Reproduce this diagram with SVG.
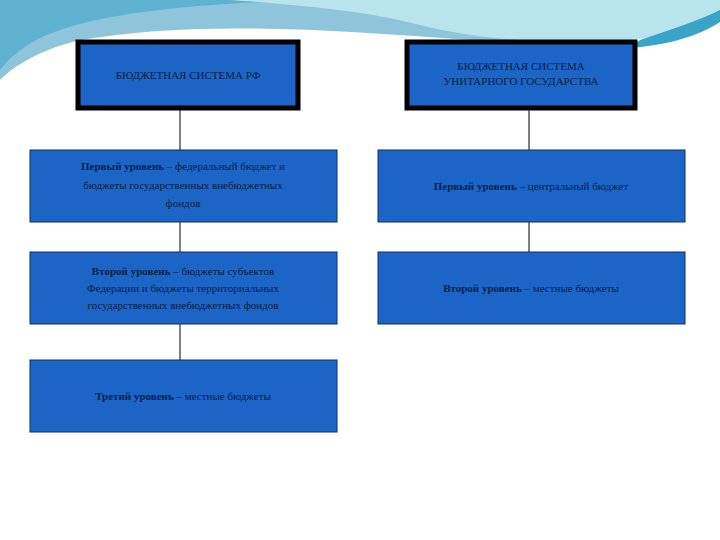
<svg xmlns="http://www.w3.org/2000/svg" width="720" height="540" viewBox="0 0 720 540">
<style>
.b{fill:#1c64c6;stroke:#0d2f66;stroke-width:1}
.h{fill:#1c64c6;stroke:#000;stroke-width:5}
text{font-family:"Liberation Serif",serif;font-size:11px;fill:#0b1f4a;text-anchor:middle}
.bo{font-weight:bold}
.c{stroke:#000;stroke-width:1;fill:none}
</style>
<rect width="720" height="540" fill="#fff"/>
<path d="M0,0 H720 V20 C650,40 560,45 470,40 C330,30 200,20 80,40 C40,50 15,65 0,80 Z" fill="#8fc5da"/>
<path d="M0,0 H300 C200,5 120,10 60,30 C30,40 12,55 0,70 Z" fill="#5fb3d0"/>
<path d="M230,0 H720 V20 C700,28 660,40 600,42 C540,44 470,38 420,25 C380,14 320,6 230,0 Z" fill="#b9e4ee"/>
<path d="M640,40 C670,30 700,20 720,10 V22 C700,35 670,45 630,48 Z" fill="#3aa3c8"/>
<g id="connectors">
<path class="c" d="M180,110 V150 M180,222 V252 M180,324 V360 M529,110 V150 M529,222 V252"/>
</g>
<g id="rf"><rect class="h" x="78" y="42" width="220" height="66"/><text x="188" y="79">БЮДЖЕТНАЯ СИСТЕМА РФ</text></g>
<g id="unit"><rect class="h" x="407" y="42" width="228" height="66"/><text x="521" y="70">БЮДЖЕТНАЯ СИСТЕМА</text><text x="521" y="85">УНИТАРНОГО ГОСУДАРСТВА</text></g>
<g id="l1"><rect class="b" x="30" y="150" width="307" height="72"/><text x="183" y="170"><tspan class="bo">Первый уровень</tspan> – федеральный бюджет и</text><text x="183" y="189">бюджеты государственных внебюджетных</text><text x="183" y="207">фондов</text></g>
<g id="l2"><rect class="b" x="30" y="252" width="307" height="72"/><text x="183" y="275"><tspan class="bo">Второй уровень</tspan> – бюджеты субъектов</text><text x="183" y="292">Федерации и бюджеты территориальных</text><text x="183" y="309">государственных внебюджетных фондов</text></g>
<g id="l3"><rect class="b" x="30" y="360" width="307" height="72"/><text x="183" y="400"><tspan class="bo">Третий уровень</tspan> – местные бюджеты</text></g>
<g id="r1"><rect class="b" x="378" y="150" width="307" height="72"/><text x="531" y="190"><tspan class="bo">Первый уровень</tspan> – центральный бюджет</text></g>
<g id="r2"><rect class="b" x="378" y="252" width="307" height="72"/><text x="531" y="292"><tspan class="bo">Второй уровень</tspan> – местные бюджеты</text></g>
</svg>
